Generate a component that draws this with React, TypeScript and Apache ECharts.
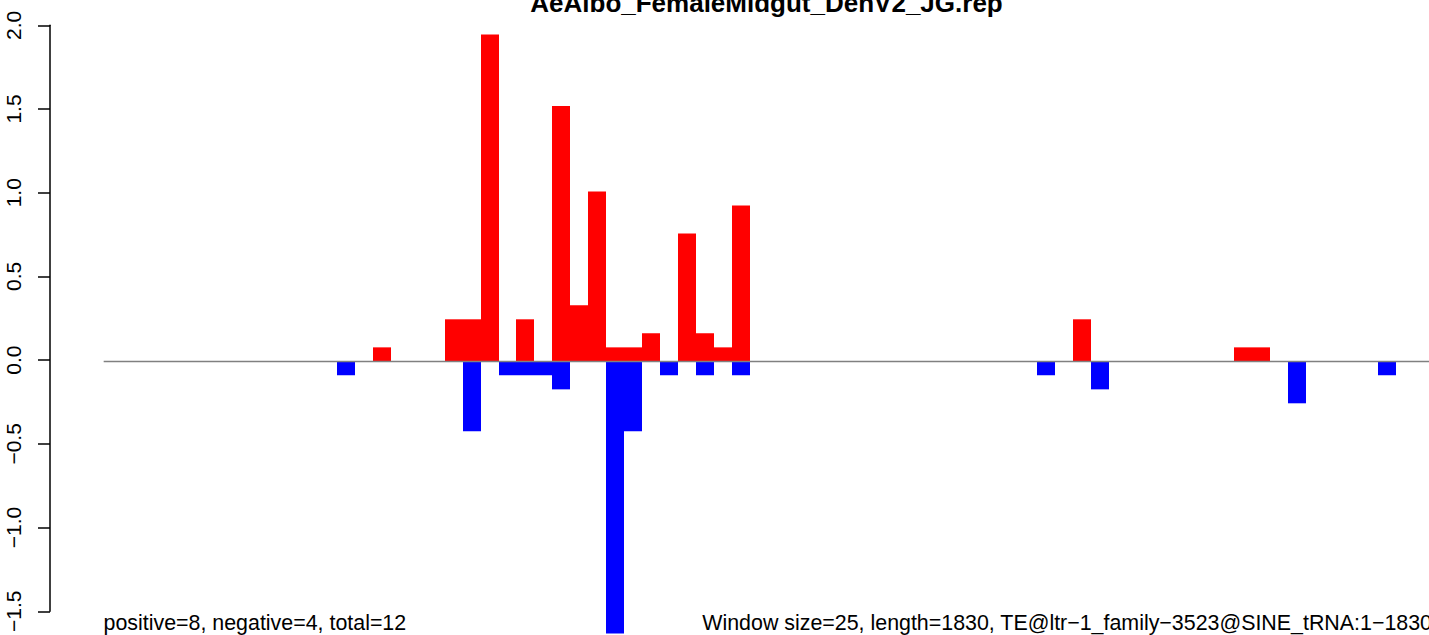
import React, { useEffect, useRef } from "react";
import * as echarts from "echarts";

const TITLE = "AeAlbo_FemaleMidgut_DenV2_JG.rep";
const LEFT_NOTE = "positive=8, negative=4, total=12";
const RIGHT_NOTE = "Window size=25, length=1830, TE@ltr\u22121_family\u22123523@SINE_tRNA:1\u22121830";

const WINDOW_SIZE = 25;
const positiveWindows = [15, 19, 20, 21, 23, 25, 26, 27, 28, 29, 30, 32, 33, 34, 35, 54, 63, 64];
const positiveValues = [0.083, 0.25, 0.25, 1.945, 0.25, 1.52, 0.333, 1.01, 0.083, 0.083, 0.167, 0.76, 0.167, 0.083, 0.927, 0.25, 0.083, 0.083];
const negativeWindows = [13, 20, 22, 23, 24, 25, 28, 29, 31, 33, 35, 52, 55, 66, 71];
const negativeValues = [-0.083, -0.417, -0.083, -0.083, -0.083, -0.167, -1.65, -0.417, -0.083, -0.083, -0.083, -0.083, -0.167, -0.25, -0.083];
const yTicks = [-1.5, -1.0, -0.5, 0.0, 0.5, 1.0, 1.5, 2.0];

const FONT = "'Liberation Sans', Arial, Helvetica, sans-serif";

export default function App() {
  const ref = useRef<HTMLDivElement>(null);
  useEffect(() => {
    if (!ref.current) return;
    const chart = echarts.init(ref.current, undefined, { renderer: "svg" });
    const pxPerUnitY = 168;
    const zeroY = 361.3;
    const topY = zeroY - yTicks[yTicks.length - 1] * pxPerUnitY;
    const xLeft = 103.67;
    const pxPerUnitX = 17.948 / WINDOW_SIZE;
    const xWidth = 1429 - xLeft;
    const xMax = xWidth / pxPerUnitX;
    const yMinMain = -1.62;

    const makeRender = (color: string) => (params: any, api: any) => {
      const start = api.value(0);
      const v = api.value(1);
      const p0 = api.coord([start, 0]);
      const p1 = api.coord([start + WINDOW_SIZE, v]);
      const x0 = Math.round(p0[0]);
      const x1 = Math.round(p1[0]);
      return {
        type: "rect",
        shape: {
          x: x0,
          y: Math.min(p0[1], p1[1]),
          width: x1 - x0,
          height: Math.abs(p1[1] - p0[1]),
        },
        style: { fill: color },
      };
    };

    chart.setOption({
      animation: false,
      backgroundColor: "#ffffff",
      grid: [
        {
          left: xLeft,
          top: topY,
          width: xWidth,
          height: (yTicks[yTicks.length - 1] - yMinMain) * pxPerUnitY,
        },
        {
          left: 50,
          top: topY,
          width: 1,
          height: (yTicks[yTicks.length - 1] - yTicks[0]) * pxPerUnitY,
        },
      ],
      xAxis: [
        { type: "value", gridIndex: 0, min: 0, max: xMax, show: false },
        { type: "value", gridIndex: 1, min: 0, max: 1, show: false },
      ],
      yAxis: [
        { type: "value", gridIndex: 0, min: yMinMain, max: yTicks[yTicks.length - 1], show: false },
        {
          type: "value",
          gridIndex: 1,
          min: yTicks[0],
          max: yTicks[yTicks.length - 1],
          interval: 0.5,
          splitLine: { show: false },
          axisLine: { show: true, lineStyle: { color: "#000", width: 1.5 } },
          axisTick: { show: true, length: 12, lineStyle: { color: "#000", width: 1.5 } },
          axisLabel: {
            rotate: 90,
            margin: 26,
            color: "#000",
            fontSize: 21,
            fontFamily: FONT,
            formatter: (v: number) => v.toFixed(1).replace("-", "\u2212"),
          },
        },
      ],
      series: [
        {
          type: "custom",
          xAxisIndex: 0,
          yAxisIndex: 0,
          clip: true,
          renderItem: makeRender("#ff0000"),
          data: positiveWindows.map((w, i) => [w * WINDOW_SIZE, positiveValues[i]]),
          z: 2,
        },
        {
          type: "custom",
          xAxisIndex: 0,
          yAxisIndex: 0,
          clip: true,
          renderItem: makeRender("#0000ff"),
          data: negativeWindows.map((w, i) => [w * WINDOW_SIZE, negativeValues[i]]),
          z: 2,
          markLine: {
            silent: true,
            symbol: "none",
            label: { show: false },
            lineStyle: { color: "#808080", width: 1.3, type: "solid" },
            data: [{ yAxis: 0 }],
            z: 5,
          },
        },
      ],
      graphic: [
        {
          type: "text",
          x: 766.5,
          y: 12 - 0.35 * 26,
          style: {
            text: TITLE,
            fontSize: 26,
            fontWeight: "bold",
            fontFamily: FONT,
            fill: "#000",
            textAlign: "center",
            textVerticalAlign: "middle",
          },
        },
        {
          type: "text",
          x: 103.5,
          y: 630.5 - 0.35 * 21.4,
          style: {
            text: LEFT_NOTE,
            fontSize: 21.4,
            fontFamily: FONT,
            fill: "#000",
            textAlign: "left",
            textVerticalAlign: "middle",
          },
        },
        {
          type: "text",
          x: 1432,
          y: 630.5 - 0.35 * 21.4,
          style: {
            text: RIGHT_NOTE,
            fontSize: 21.4,
            fontFamily: FONT,
            fill: "#000",
            textAlign: "right",
            textVerticalAlign: "middle",
          },
        },
      ],
    });
    return () => chart.dispose();
  }, []);
  return (
    <div
      ref={ref}
      style={{ position: "fixed", left: 0, top: 0, width: 1429, height: 635, background: "#fff" }}
    />
  );
}
